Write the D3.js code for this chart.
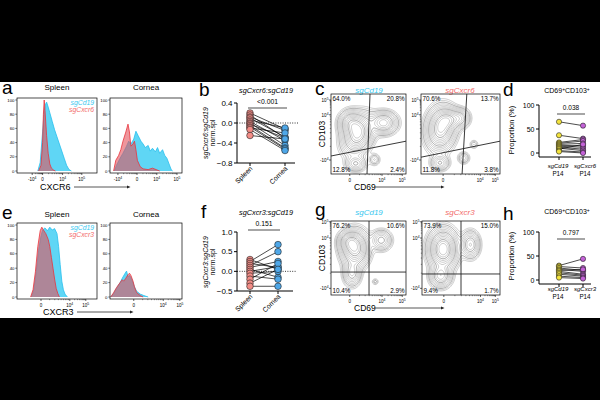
<!DOCTYPE html>
<html>
<head>
<meta charset="utf-8">
<script src="https://cdn.jsdelivr.net/npm/d3@7"></script>
<style>
  body { margin: 0; background: #000; }
  text { font-family: "Liberation Sans", Arial, sans-serif; }
</style>
</head>
<body>
<script>
// ---- data ----
// histograms: [channel (0-100 of axis width), % of max]
var cxcr6SpleenCd19 = [[26,0],[29,12],[32,55],[34,85],[36,95],[37,97],[39,90],[41,82],[44,70],[47,58],[50,48],[53,38],[56,28],[59,18],[62,8],[65,2],[68,0]];
var cxcr6SpleenKo   = [[27,0],[30,8],[32,40],[33,80],[34,100],[35,85],[37,50],[39,25],[41,10],[43,4],[46,1],[48,0]];
var cxcr6CorneaCd19 = [[6,0],[9,8],[14,18],[18,25],[23,35],[26,42],[29,38],[33,45],[36,56],[39,50],[43,42],[46,38],[49,33],[53,36],[56,28],[59,32],[63,27],[66,33],[69,25],[73,30],[76,22],[79,18],[82,10],[85,2],[87,0]];
var cxcr6CorneaKo   = [[5,0],[8,15],[12,22],[15,30],[18,42],[22,55],[25,66],[27,55],[29,35],[32,38],[34,42],[36,30],[38,15],[42,6],[46,3],[53,2],[59,4],[64,2],[69,0]];
var cxcr3SpleenCd19 = [[18,0],[21,10],[24,35],[27,65],[30,85],[32,93],[35,96],[38,92],[41,97],[44,93],[47,95],[50,88],[52,70],[54,45],[56,22],[58,10],[60,4],[63,0]];
var cxcr3SpleenKo   = [[17,0],[20,10],[23,35],[26,70],[29,92],[31,97],[33,93],[36,88],[39,80],[41,70],[43,55],[45,40],[47,25],[49,12],[51,5],[53,0]];
var cxcr3CorneaCd19 = [[1,0],[5,5],[9,12],[14,20],[17,26],[21,33],[23,36],[25,28],[27,30],[29,27],[32,20],[34,14],[37,8],[42,4],[47,2],[53,0]];
var cxcr3CorneaKo   = [[1,0],[5,6],[9,13],[14,20],[17,24],[19,22],[22,26],[25,31],[27,33],[29,30],[32,22],[34,14],[37,6],[42,2],[46,0]];

var histYTicks = [0, 20, 40, 60, 80, 100];
// [channel, base, exponent]
var ticksASpleen = [[19,"-10","4"],[32,"0",""],[57,"10","4"],[81,"10","5"]];
var ticksACornea = [[11,"-10","4"],[37.5,"0",""],[65,"10","4"],[93,"10","5"]];
var ticksESpleen = [[30,"0",""],[66,"10","4"],[86,"10","5"]];
var ticksECornea = [[33,"0",""],[74,"10","4"],[97,"10","5"]];

// paired ratios
var ratioCxcr6Spleen = [0.20, 0.16, 0.12, 0.10, 0.06, 0.03, 0.00, -0.02, -0.05, -0.08, -0.10, -0.13, -0.25];
var ratioCxcr6Cornea = [-0.12, -0.30, -0.15, -0.28, -0.10, -0.35, -0.45, -0.30, -0.50, -0.52, -0.20, -0.55, -0.32];
var ratioCxcr3Spleen = [0.30, 0.25, 0.20, 0.15, 0.10, 0.05, 0.00, -0.05, -0.12, -0.20, -0.30, -0.38];
var ratioCxcr3Cornea = [0.05, 0.68, 0.10, 0.50, 0.25, -0.15, 0.12, 0.00, -0.20, 0.20, 0.05, -0.38];
var ticksB = [0.4, 0.0, -0.4, -0.8];
var ticksF = [1.0, 0.5, 0.0, -0.5];

// CD69+CD103+ proportions
var propCd19D  = [65, 37, 22, 20, 18, 16, 14, 12, 10, 8, 5, 3];
var propCxcr6  = [57, 30, 28, 25, 20, 15, 12, 8, 5, 18, 2, 0];
var propCd19H  = [30, 28, 25, 22, 20, 18, 15, 12, 8, 5];
var propCxcr3  = [44, 25, 20, 18, 22, 12, 10, 8, 5, 3];
var propTicks  = [0, 50, 100];

// flow plots: quadrant percentages [TL, TR, BL, BR]
var quadC1 = ["64.0%", "20.8%", "12.8%", "2.4%"];
var quadC2 = ["70.6%", "13.7%", "11.8%", "3.8%"];
var quadG1 = ["76.2%", "10.6%", "10.4%", "2.9%"];
var quadG2 = ["73.9%", "15.0%", "9.4%", "1.7%"];
// gates in axis fractions: [vertical x top, vertical x bottom, horizontal y left, horizontal y right]
var gateC1 = [0.52, 0.48, 0.225, 0.41];
var gateC2 = [0.58, 0.52, 0.21, 0.41];
var gateG1 = [0.507, 0.507, 0.31, 0.31];
var gateG2 = [0.50, 0.50, 0.284, 0.284];
// cell clusters (axis fractions): [cx, cy, sx, sy, weight, rho]
var blobsC1 = [[0.36,0.50,0.10,0.12,1.0,0.25],[0.27,0.63,0.08,0.08,0.6,0],[0.70,0.64,0.09,0.07,0.55,0],[0.33,0.13,0.07,0.05,0.25,0],[0.58,0.18,0.04,0.04,0.1,0]];
var blobsC2 = [[0.25,0.57,0.09,0.13,1.0,0.1],[0.36,0.68,0.08,0.07,0.55,0],[0.50,0.70,0.06,0.06,0.3,0],[0.24,0.14,0.06,0.05,0.25,0],[0.54,0.2,0.04,0.04,0.12,0],[0.67,0.37,0.03,0.03,0.07,0]];
var blobsG1 = [[0.32,0.63,0.09,0.12,1.0,0],[0.24,0.72,0.07,0.07,0.5,0],[0.28,0.30,0.06,0.09,0.35,0],[0.67,0.74,0.07,0.07,0.3,0],[0.59,0.18,0.025,0.025,0.06,0]];
var blobsG2 = [[0.27,0.62,0.09,0.13,1.0,0],[0.24,0.26,0.07,0.08,0.4,0],[0.62,0.68,0.06,0.09,0.35,0]];
var flowXTicksL = [[0.25,"0",""],[0.68,"10","4"],[0.95,"10","5"]];
var flowXTicksR = [[0.28,"0",""],[0.75,"10","4"],[0.94,"10","5"]];
var flowYTicksC = [[0.925,"10","5"],[0.74,"10","4"],[0.175,"-10","4"]];
var flowYTicksG = [[0.99,"10","5"],[0.77,"10","4"],[0.09,"-10","4"]];
var contourLevels = [0.015, 0.025, 0.04, 0.06, 0.085, 0.12, 0.16, 0.21, 0.27, 0.34, 0.42, 0.51, 0.61, 0.72, 0.84];

// ---- colours ----
var cyanFill = "#5fd6f5", cyanLine = "#27bfee", redFill = "#e3505a", redLine = "#e8343c";
var cyanText = "#38c8ef", redText = "#f26a6a";
var salmon = "#f28c86", blue = "#4ea7e8", yellow = "#f3e33d", purple = "#c462d8";

var svg = d3.select("body").append("svg").attr("width", 600).attr("height", 400);
svg.append("rect").attr("width", 600).attr("height", 400).attr("fill", "#000");
svg.append("rect").attr("y", 82).attr("width", 600).attr("height", 236).attr("fill", "#fff");

var clipCount = 0;

function addText(x, y, str, size, opts) {
    opts = opts || {};
    var t = svg.append("text").attr("x", x).attr("y", y)
        .attr("font-size", size).attr("fill", opts.fill || "#000")
        .attr("text-anchor", opts.anchor || "start")
        .text(str);
    if (opts.italic) t.attr("font-style", "italic");
    if (opts.rotate != null) t.attr("transform", "rotate(" + opts.rotate + "," + x + "," + y + ")");
    return t;
}

function supText(x, y, base, exp, size, anchor) {
    var t = svg.append("text").attr("x", x).attr("y", y).attr("font-size", size)
        .attr("text-anchor", anchor).attr("fill", "#000");
    t.append("tspan").text(base);
    if (exp) t.append("tspan").attr("dy", -size * 0.45).attr("font-size", size * 0.75).text(exp);
}

function minorPositions(ticks) {
    var out = [];
    for (var i = 0; i < ticks.length - 1; i++) {
        var a = ticks[i][0], b = ticks[i + 1][0];
        for (var m = 2; m < 10; m++) out.push(a + (b - a) * Math.log10(m));
    }
    return out;
}

function arrowAxis(x1, x2, y) {
    svg.append("line").attr("x1", x1).attr("x2", x2).attr("y1", y).attr("y2", y)
        .attr("stroke", "#444").attr("stroke-width", 0.9);
    svg.append("path").attr("d", "M" + (x2 + 2.5) + "," + y + "L" + (x2 - 1) + "," + (y - 1.6) + "L" + (x2 - 1) + "," + (y + 1.6) + "Z")
        .attr("fill", "#222");
}

function histogram(x0, y0, w, h, cd19, ko, ticks) {
    var x = d3.scaleLinear().domain([0, 100]).range([x0, x0 + w]);
    var y = d3.scaleLinear().domain([0, 100]).range([y0 + h - 2, y0 + 2]);
    var id = "clip" + (clipCount++);
    svg.append("clipPath").attr("id", id).append("rect")
        .attr("x", x0).attr("y", y0).attr("width", w).attr("height", h);
    var area = d3.area().x(function(d) { return x(d[0]); }).y0(y(0)).y1(function(d) { return y(d[1]); });
    var line = d3.line().x(function(d) { return x(d[0]); }).y(function(d) { return y(d[1]); });
    var g = svg.append("g").attr("clip-path", "url(#" + id + ")");
    g.append("path").datum(cd19).attr("d", area).attr("fill", cyanFill);
    g.append("path").datum(cd19).attr("d", line).attr("fill", "none").attr("stroke", cyanLine).attr("stroke-width", 0.8);
    g.append("path").datum(ko).attr("d", area).attr("fill", redFill).attr("fill-opacity", 0.6);
    g.append("path").datum(ko).attr("d", line).attr("fill", "none").attr("stroke", redLine).attr("stroke-width", 0.8);
    svg.append("rect").attr("x", x0).attr("y", y0).attr("width", w).attr("height", h)
        .attr("fill", "none").attr("stroke", "#000").attr("stroke-width", 0.7);

    histYTicks.forEach(function(v) {
        svg.append("line").attr("x1", x0 - 1.8).attr("x2", x0).attr("y1", y(v)).attr("y2", y(v))
            .attr("stroke", "#000").attr("stroke-width", 0.5);
        addText(x0 - 2.5, y(v) + 1.5, v, 4.3, { anchor: "end" });
    });
    ticks.forEach(function(t) {
        svg.append("line").attr("x1", x(t[0])).attr("x2", x(t[0])).attr("y1", y0 + h).attr("y2", y0 + h + 2)
            .attr("stroke", "#000").attr("stroke-width", 0.6);
        supText(x(t[0]), y0 + h + 8, t[1], t[2], 4.5, "middle");
    });
    minorPositions(ticks).forEach(function(v) {
        if (v > 100) return;
        svg.append("line").attr("x1", x(v)).attr("x2", x(v)).attr("y1", y0 + h).attr("y2", y0 + h + 1.2)
            .attr("stroke", "#000").attr("stroke-width", 0.4);
    });
}

function flowPlot(x0, y0, w, h, blobs, gate, quads, xt, yt) {
    var n = 80;
    var values = new Array(n * n);
    for (var j = 0; j < n; j++) {
        for (var i = 0; i < n; i++) {
            var px = (i + 0.5) / n, py = 1 - (j + 0.5) / n, s = 0;
            blobs.forEach(function(b) {
                var dx = (px - b[0]) / b[2], dy = (py - b[1]) / b[3], r = b[5];
                s += b[4] * Math.exp(-0.5 / (1 - r * r) * (dx * dx - 2 * r * dx * dy + dy * dy));
            });
            values[i + j * n] = s;
        }
    }
    var max = d3.max(values);
    var contours = d3.contours().size([n, n]).thresholds(contourLevels.map(function(f) { return f * max; }))(values);
    var proj = d3.geoTransform({ point: function(px, py) { this.stream.point(x0 + px / n * w, y0 + py / n * h); } });
    var path = d3.geoPath(proj);

    var id = "clip" + (clipCount++);
    svg.append("clipPath").attr("id", id).append("rect")
        .attr("x", x0).attr("y", y0).attr("width", w).attr("height", h);
    svg.append("g").attr("clip-path", "url(#" + id + ")")
        .selectAll("path").data(contours).join("path")
        .attr("d", path).attr("fill", "none")
        .attr("stroke", function(d, k) { return k % 5 === 2 ? "#5a5a5a" : "#9a9a9a"; })
        .attr("stroke-width", 0.5);

    svg.append("rect").attr("x", x0).attr("y", y0).attr("width", w).attr("height", h)
        .attr("fill", "none").attr("stroke", "#000").attr("stroke-width", 0.7);

    var sx = d3.scaleLinear().domain([0, 1]).range([x0, x0 + w]);
    var sy = d3.scaleLinear().domain([0, 1]).range([y0 + h, y0]);
    // gates
    svg.append("line").attr("x1", sx(gate[0])).attr("y1", sy(1)).attr("x2", sx(gate[1])).attr("y2", sy(0))
        .attr("stroke", "#222").attr("stroke-width", 0.9);
    svg.append("line").attr("x1", sx(0)).attr("y1", sy(gate[2])).attr("x2", sx(1)).attr("y2", sy(gate[3]))
        .attr("stroke", "#222").attr("stroke-width", 0.9);

    addText(x0 + 1.5, y0 + 7, quads[0], 6.3);
    addText(x0 + w - 1.5, y0 + 7, quads[1], 6.3, { anchor: "end" });
    addText(x0 + 1.5, y0 + h - 2, quads[2], 6.3);
    addText(x0 + w - 1.5, y0 + h - 2, quads[3], 6.3, { anchor: "end" });

    xt.forEach(function(t) {
        svg.append("line").attr("x1", sx(t[0])).attr("x2", sx(t[0])).attr("y1", y0 + h).attr("y2", y0 + h + 2)
            .attr("stroke", "#000").attr("stroke-width", 0.6);
        supText(sx(t[0]), y0 + h + 8, t[1], t[2], 4.5, "middle");
    });
    minorPositions(xt).forEach(function(v) {
        if (v > 1) return;
        svg.append("line").attr("x1", sx(v)).attr("x2", sx(v)).attr("y1", y0 + h).attr("y2", y0 + h + 1.2)
            .attr("stroke", "#000").attr("stroke-width", 0.4);
    });
    var ytAsc = yt.slice().reverse();
    yt.forEach(function(t) {
        svg.append("line").attr("x1", x0 - 2).attr("x2", x0).attr("y1", sy(t[0])).attr("y2", sy(t[0]))
            .attr("stroke", "#000").attr("stroke-width", 0.6);
        supText(x0 - 2.5, sy(t[0]) + 2, t[1], t[2], 4.5, "end");
    });
    minorPositions(ytAsc).forEach(function(v) {
        if (v > 1 || v < 0) return;
        svg.append("line").attr("x1", x0 - 1.2).attr("x2", x0).attr("y1", sy(v)).attr("y2", sy(v))
            .attr("stroke", "#000").attr("stroke-width", 0.4);
    });
}

function pairedPlot(o) {
    var y = d3.scaleLinear().domain(o.domain).range(o.range);
    var axisBottom = o.axisBottom != null ? o.axisBottom : o.range[0];
    var axisTop = y(o.domain[1]);
    svg.append("line").attr("x1", o.ax).attr("x2", o.ax).attr("y1", axisTop).attr("y2", axisBottom)
        .attr("stroke", "#000").attr("stroke-width", 1);
    svg.append("line").attr("x1", o.ax).attr("x2", o.xEnd).attr("y1", axisBottom).attr("y2", axisBottom)
        .attr("stroke", "#000").attr("stroke-width", 1);
    o.ticks.forEach(function(v) {
        svg.append("line").attr("x1", o.ax - 3).attr("x2", o.ax).attr("y1", y(v)).attr("y2", y(v))
            .attr("stroke", "#000").attr("stroke-width", 1);
        addText(o.ax - 4.5, y(v) + 2.8, o.fmt(v), o.tickSize, { anchor: "end" });
    });
    o.cats.forEach(function(cx) {
        svg.append("line").attr("x1", cx).attr("x2", cx).attr("y1", axisBottom).attr("y2", axisBottom + 3)
            .attr("stroke", "#000").attr("stroke-width", 1);
    });
    if (o.zeroLine) {
        svg.append("line").attr("x1", o.ax).attr("x2", o.xEnd + 3).attr("y1", y(0)).attr("y2", y(0))
            .attr("stroke", "#000").attr("stroke-width", 0.8).attr("stroke-dasharray", "1,1.4");
    }
    var g = svg.append("g");
    o.a.forEach(function(v, i) {
        g.append("line").attr("x1", o.cats[0]).attr("x2", o.cats[1]).attr("y1", y(v)).attr("y2", y(o.b[i]))
            .attr("stroke", "#000").attr("stroke-width", 0.7);
    });
    g.selectAll(".ca").data(o.a).join("circle").attr("cx", o.cats[0]).attr("cy", function(d) { return y(d); })
        .attr("r", o.r).attr("fill", o.colA).attr("stroke", "#222").attr("stroke-width", 0.6);
    g.selectAll(".cb").data(o.b).join("circle").attr("cx", o.cats[1]).attr("cy", function(d) { return y(d); })
        .attr("r", o.r).attr("fill", o.colB).attr("stroke", "#222").attr("stroke-width", 0.6);
    // significance
    var mid = (o.cats[0] + o.cats[1]) / 2;
    addText(mid, o.pY, o.pText, o.pSize, { anchor: "middle" });
    svg.append("line").attr("x1", o.cats[0] - 2).attr("x2", o.cats[1] + 2).attr("y1", o.pY + 4).attr("y2", o.pY + 4)
        .attr("stroke", "#000").attr("stroke-width", 0.7);
}

// ---- panel letters ----
[["a", 2, 94], ["b", 199, 96], ["c", 315, 95], ["d", 503, 96],
 ["e", 2, 219], ["f", 201, 218], ["g", 315, 216], ["h", 503, 220]].forEach(function(l) {
    addText(l[1], l[2], l[0], 19);
});

// ---- a ----
addText(57, 90, "Spleen", 8, { anchor: "middle" });
addText(146, 90, "Cornea", 8, { anchor: "middle" });
histogram(17, 98, 80, 75, cxcr6SpleenCd19, cxcr6SpleenKo, ticksASpleen);
histogram(110, 98, 72, 75, cxcr6CorneaCd19, cxcr6CorneaKo, ticksACornea);
addText(94, 105, "sgCd19", 6.8, { anchor: "end", italic: true, fill: cyanText });
addText(94, 111.5, "sgCxcr6", 6.8, { anchor: "end", italic: true, fill: redText });
addText(40, 190, "CXCR6", 9);
arrowAxis(74, 128, 187);

// ---- e ----
addText(57, 217, "Spleen", 8, { anchor: "middle" });
addText(146, 217, "Cornea", 8, { anchor: "middle" });
histogram(17, 223, 80, 76, cxcr3SpleenCd19, cxcr3SpleenKo, ticksESpleen);
histogram(110, 223, 72, 76, cxcr3CorneaCd19, cxcr3CorneaKo, ticksECornea);
addText(94, 230, "sgCd19", 6.8, { anchor: "end", italic: true, fill: cyanText });
addText(94, 236.5, "sgCxcr3", 6.8, { anchor: "end", italic: true, fill: redText });
addText(43, 315, "CXCR3", 9);
arrowAxis(77, 131, 312);

// ---- b ----
addText(266, 93, "sgCxcr6:sgCd19", 7.3, { anchor: "middle", italic: true });
addText(208, 133, "sgCxcr6:sgCd19", 7, { anchor: "middle", italic: true, rotate: -90 });
addText(215, 133, "norm.spl", 7, { anchor: "middle", rotate: -90 });
pairedPlot({ ax: 237, xEnd: 295, domain: [-0.8, 0.4], range: [163, 103], ticks: ticksB,
    fmt: d3.format(".1f"), tickSize: 8, cats: [250, 285], a: ratioCxcr6Spleen, b: ratioCxcr6Cornea,
    colA: salmon, colB: blue, r: 3.3, zeroLine: true, pText: "<0.001", pY: 104, pSize: 6.8 });
addText(253, 169, "Spleen", 6.8, { anchor: "end", rotate: -45 });
addText(288, 169, "Cornea", 6.8, { anchor: "end", rotate: -45 });

// ---- f ----
addText(266, 215, "sgCxcr3:sgCd19", 7.3, { anchor: "middle", italic: true });
addText(208, 262, "sgCxcr3:sgCd19", 7, { anchor: "middle", italic: true, rotate: -90 });
addText(215, 262, "norm.spl", 7, { anchor: "middle", rotate: -90 });
pairedPlot({ ax: 237, xEnd: 293, domain: [-0.5, 1.0], range: [291, 232], ticks: ticksF,
    fmt: d3.format(".1f"), tickSize: 8, cats: [250, 278], a: ratioCxcr3Spleen, b: ratioCxcr3Cornea,
    colA: salmon, colB: blue, r: 3.3, zeroLine: true, pText: "0.151", pY: 226, pSize: 6.8 });
addText(253, 297, "Spleen", 6.8, { anchor: "end", rotate: -45 });
addText(281, 297, "Cornea", 6.8, { anchor: "end", rotate: -45 });

// ---- c ----
addText(369, 93, "sgCd19", 8, { anchor: "middle", italic: true, fill: cyanText });
addText(460, 93, "sgCxcr6", 8, { anchor: "middle", italic: true, fill: redText });
flowPlot(331, 94, 75, 80, blobsC1, gateC1, quadC1, flowXTicksL, flowYTicksC);
flowPlot(421, 94, 79, 80, blobsC2, gateC2, quadC2, flowXTicksR, flowYTicksC);
addText(325, 134, "CD103", 8.5, { anchor: "middle", rotate: -90 });
addText(354, 190, "CD69", 8.5);
arrowAxis(374, 442, 187);

// ---- g ----
addText(369, 215, "sgCd19", 8, { anchor: "middle", italic: true, fill: cyanText });
addText(460, 215, "sgCxcr3", 8, { anchor: "middle", italic: true, fill: redText });
flowPlot(331, 221, 75, 74, blobsG1, gateG1, quadG1, flowXTicksL, flowYTicksG);
flowPlot(422, 221, 78, 74, blobsG2, gateG2, quadG2, flowXTicksR, flowYTicksG);
addText(325, 258, "CD103", 8.5, { anchor: "middle", rotate: -90 });
addText(354, 311, "CD69", 8.5);
arrowAxis(374, 442, 308);

// ---- d / h ----
function cd69Title(x, y) {
    var t = svg.append("text").attr("x", x).attr("y", y).attr("font-size", 7).attr("text-anchor", "middle");
    t.append("tspan").text("CD69");
    t.append("tspan").attr("dy", -2.5).attr("font-size", 5).text("+");
    t.append("tspan").attr("dy", 2.5).text("CD103");
    t.append("tspan").attr("dy", -2.5).attr("font-size", 5).text("+");
}
function catLabels(cats, names, y) {
    cats.forEach(function(cx, i) {
        addText(cx, y, names[i], 6, { anchor: "middle", italic: true });
        addText(cx, y + 8, "P14", 6.3, { anchor: "middle" });
    });
}
cd69Title(567, 93);
addText(514, 130, "Proportion (%)", 7.5, { anchor: "middle", rotate: -90 });
pairedPlot({ ax: 539, xEnd: 591, domain: [0, 100], range: [153, 105], axisBottom: 157, ticks: propTicks,
    fmt: String, tickSize: 7, cats: [559, 583], a: propCd19D, b: propCxcr6,
    colA: yellow, colB: purple, r: 2.6, zeroLine: false, pText: "0.038", pY: 110, pSize: 6.5 });
catLabels([558, 585], ["sgCd19", "sgCxcr6"], 168);

cd69Title(567, 214);
addText(514, 256, "Proportion (%)", 7.5, { anchor: "middle", rotate: -90 });
pairedPlot({ ax: 539, xEnd: 591, domain: [0, 100], range: [280, 232], axisBottom: 284, ticks: propTicks,
    fmt: String, tickSize: 7, cats: [559, 583], a: propCd19H, b: propCxcr3,
    colA: yellow, colB: purple, r: 2.6, zeroLine: false, pText: "0.797", pY: 235, pSize: 6.5 });
catLabels([558, 585], ["sgCd19", "sgCxcr3"], 291);
</script>
</body>
</html>
